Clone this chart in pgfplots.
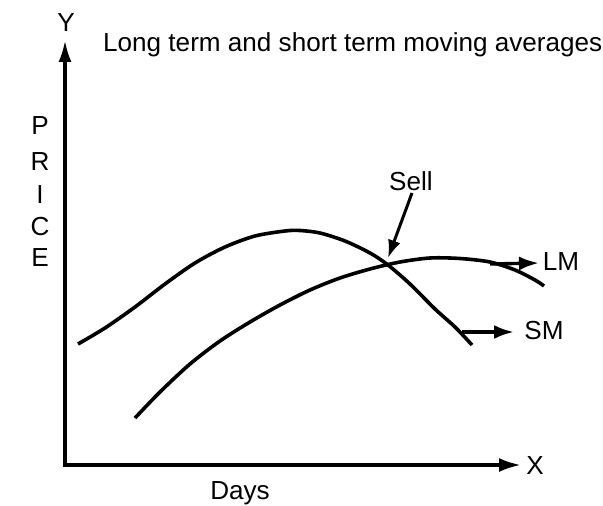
\documentclass[border=0pt]{standalone}
\usepackage{pgfplots}
\pgfplotsset{compat=1.18}
\usepackage{fontspec}
\setmainfont{Liberation Sans}
\usetikzlibrary{arrows.meta}
\begin{document}
\begin{tikzpicture}
\begin{axis}[scale only axis, width=603bp, height=506bp,
  xmin=0, xmax=603, ymin=0, ymax=506, y dir=reverse,
  hide axis, clip=false]
\path (axis cs:0,0) rectangle (axis cs:603,506);
% axes
\draw[line width=3.4bp, -{Latex[length=22bp,width=13bp]}] (axis cs:65,467) -- (axis cs:65,40);
\draw[line width=3.4bp, -{Latex[length=22bp,width=14bp]}] (axis cs:63.3,465) -- (axis cs:521,465);
% SM (short-term moving average)
\addplot[smooth, line width=3.6bp, black] coordinates {
(78,344) (105,328) (135,307) (165,284) (195,263) (225,247) (255,236) (285,231)
(300,230.5) (320,233) (345,241) (370,253) (388,265) (410,284) (435,309) (455,327) (472,345)};
% LM (long-term moving average)
\addplot[smooth, line width=3.6bp, black] coordinates {
(135,418) (160,392) (190,364) (220,341) (250,322) (280,305) (310,290) (340,278)
(370,269) (400,262) (430,258) (460,258.5) (490,262) (515,270) (535,280) (544,286)};
% label arrows
\draw[line width=3.4bp, -{Latex[length=20bp,width=14bp]}] (axis cs:490,264) -- (axis cs:539,263);
\draw[line width=3.4bp, -{Latex[length=20bp,width=14bp]}] (axis cs:462,332) -- (axis cs:514,332);
\draw[line width=3bp, -{Latex[length=18bp,width=13bp]}] (axis cs:412,193) -- (axis cs:388,258);
% texts
\fontsize{26.2}{30}\selectfont
\node[anchor=base west, inner sep=0pt] at (axis cs:103,52) {Long term and short term moving averages};
\node[inner sep=0pt] at (axis cs:66,23) {Y};
\node[inner sep=0pt] at (axis cs:535,466) {X};
\node[inner sep=0pt] at (axis cs:240,493) {Days};
\node[inner sep=0pt] at (axis cs:561,262) {LM};
\node[inner sep=0pt] at (axis cs:544,331) {SM};
\node[inner sep=0pt] at (axis cs:411,181) {Sell};
\node[inner sep=0pt] at (axis cs:40,126) {P};
\node[inner sep=0pt] at (axis cs:40,162) {R};
\node[inner sep=0pt] at (axis cs:40,195) {I};
\node[inner sep=0pt] at (axis cs:40,227) {C};
\node[inner sep=0pt] at (axis cs:40,258) {E};
\end{axis}
\end{tikzpicture}
\end{document}
